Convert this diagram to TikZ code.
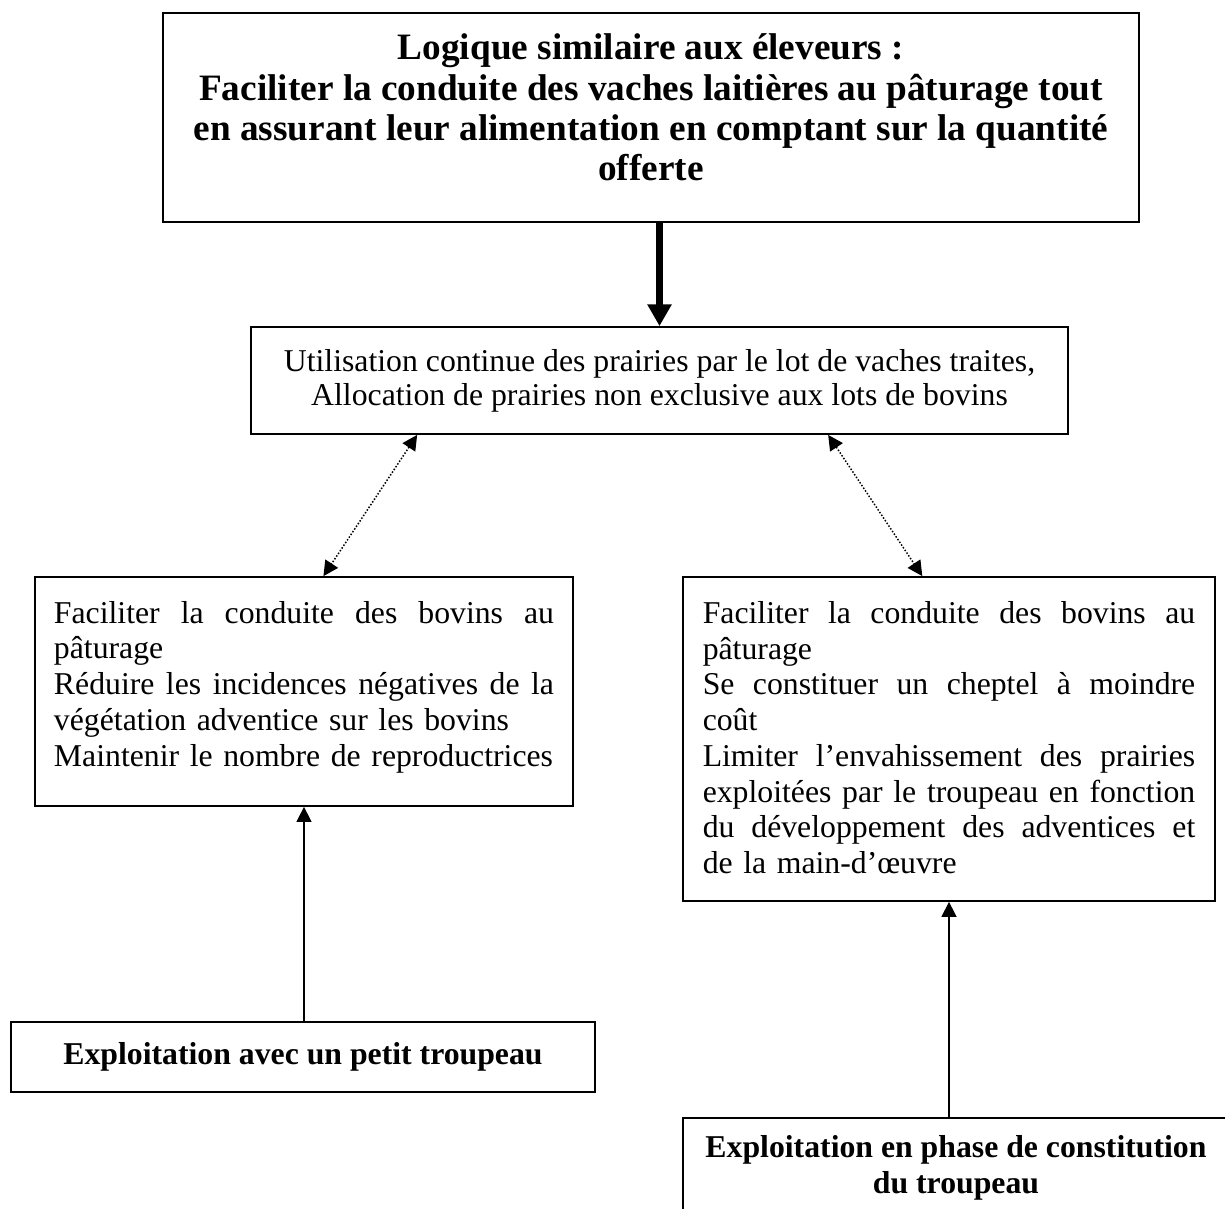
\documentclass[tikz,border=0pt]{standalone}
\usepackage{fontspec}
\setmainfont{Liberation Serif}
\usetikzlibrary{calc,arrows.meta}
\tikzstyle{bx}=[draw, rectangle, line width=0.7pt, inner sep=0pt, font=\fontsize{12.7}{14.3}\selectfont]
\tikzstyle{big}=[bx, align=center, font=\fontsize{14.9}{16.1}\selectfont\bfseries]
\tikzstyle{bold}=[bx, align=center, font=\fontsize{12.7}{14.3}\selectfont\bfseries]
\tikzstyle{lst}=[bx, align=left]
\tikzstyle{dots}=[line width=0.6pt, dash pattern=on 0.6pt off 0.7pt, {Triangle[length=6pt,width=6pt]}-{Triangle[length=6pt,width=6pt]}]
\tikzstyle{up}=[line width=0.6pt, -{Triangle[length=6pt,width=6pt]}]
\newcommand{\jline}[1]{\leavevmode\hbox to\hsize{\spaceskip=0.25em plus 1fil\relax #1}}

\begin{document}
\begin{tikzpicture}[x=0.4pt,y=-0.4pt]
\useasboundingbox (0,0) rectangle (1225,1208);
\clip (0,0) rectangle (1225,1208);
\draw (651,117.5) node[big, minimum width=390.4pt, minimum height=83.6pt] (top)
	{Logique similaire aux éleveurs :\\Faciliter la conduite des vaches laitières au pâturage tout\\en assurant leur alimentation en comptant sur la quantité\\offerte\\[-8pt]\mbox{}};
\draw (659.5,380.5) node[bx, align=center, minimum width=326.8pt, minimum height=42.8pt, font=\fontsize{12.7}{13.5}\selectfont] (mid)
	{Utilisation continue des prairies par le lot de vaches traites,\\Allocation de prairies non exclusive aux lots de bovins};
\draw (304,691.5) node[lst, text width=200pt, minimum width=215.2pt, minimum height=91.6pt] (lb)
	{\jline{Faciliter la conduite des bovins au}\\pâturage\\\jline{Réduire les incidences négatives de la}\\végétation adventice sur les bovins\\Maintenir le nombre de reproductrices\\[-8pt]\mbox{}};
\draw (949,739) node[lst, text width=197pt, minimum width=212.8pt, minimum height=129.6pt] (rb)
	{\jline{Faciliter la conduite des bovins au}\\pâturage\\\jline{Se constituer un cheptel à moindre}\\coût\\\jline{Limiter l’envahissement des prairies}\\\jline{exploitées par le troupeau en fonction}\\\jline{du développement des adventices et}\\de la main-d’œuvre\\[-13pt]\mbox{}};
\draw (303,1057) node[bold, minimum width=233.6pt, minimum height=28pt] (pl)
	{Exploitation avec un petit troupeau};
\draw (956,1168) node[bold, minimum width=218.4pt, minimum height=40pt] (pc)
	{Exploitation en phase de constitution\\du troupeau};
\draw[line width=2.8pt, -{Triangle[length=8.7pt,width=9.2pt]}] (top.south -| mid.north) -- (mid.north);
\draw[dots] ($(mid.south west)!0.204!(mid.south east)$) -- ($(lb.north west)!0.536!(lb.north east)$);
\draw[dots] ($(mid.south west)!0.706!(mid.south east)$) -- ($(rb.north west)!0.45!(rb.north east)$);
\draw[up] (pl.north -| lb.south) -- (lb.south);
\draw[up] (rb.south |- pc.north) -- (rb.south);
\end{tikzpicture}
\end{document}
